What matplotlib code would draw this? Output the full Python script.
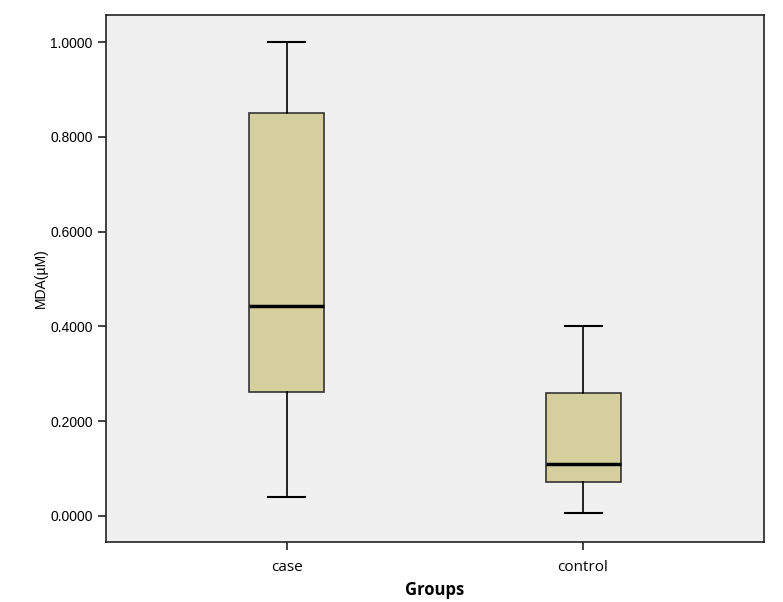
import matplotlib
matplotlib.use("Agg")
import matplotlib.pyplot as plt

groups = ["case", "control"]
whislo = [0.040, 0.007]
q1 = [0.262, 0.071]
med = [0.444, 0.110]
q3 = [0.850, 0.260]
whishi = [1.000, 0.401]
yticks = [0.0, 0.2, 0.4, 0.6, 0.8, 1.0]

plt.rcParams['font.family'] = ['Liberation Sans', 'DejaVu Sans']

fig = plt.figure(figsize=(7.83, 6.02), dpi=100)
ax = fig.add_axes([0.1354, 0.0997, 0.8403, 0.8753])
ax.set_facecolor('#F0F0F0')

stats = []
for i, g in enumerate(groups):
    stats.append(dict(label=g, whislo=whislo[i], q1=q1[i], med=med[i],
                      q3=q3[i], whishi=whishi[i], fliers=[]))

ax.bxp(stats, positions=[1, 2], widths=0.253, patch_artist=True,
       showfliers=False,
       boxprops=dict(facecolor='#D4CF9D', edgecolor='#333333', linewidth=1.2),
       medianprops=dict(color='black', linewidth=2.5),
       whiskerprops=dict(color='black', linewidth=1.2),
       capprops=dict(color='black', linewidth=1.5),
       capwidths=0.125)

ax.set_xlim(0.389, 2.611)
ax.set_ylim(-0.055, 1.057)
ax.set_yticks(yticks)
ax.set_yticklabels([f'{v:.4f}' for v in yticks], fontsize=10)
ax.set_xticks([1, 2])
ax.set_xticklabels(groups, fontsize=11, family=['Open Sans', 'DejaVu Sans'])
ax.tick_params(direction='out', length=6, width=1.2, color='#222222')
ax.tick_params(axis='x', pad=7)
for s in ax.spines.values():
    s.set_linewidth(1.2)
    s.set_color('#222222')

ax.set_ylabel('MDA(µM)', fontsize=10, labelpad=2)
ax.set_xlabel('Groups', fontsize=12, fontweight='bold',
              family=['Open Sans', 'DejaVu Sans'], labelpad=4)

fig.savefig('out.png', dpi=100)
